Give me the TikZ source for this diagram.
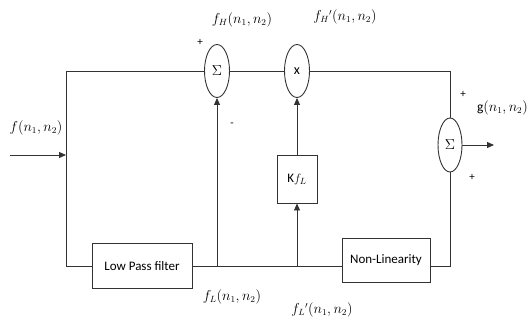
\documentclass[tikz,border=0pt]{standalone}
\usepackage{fontspec}
\setmainfont{Carlito}
\usetikzlibrary{shapes.geometric,arrows.meta}
\begin{document}
\begin{tikzpicture}[x=1pt,y=-1pt,
  line/.style={draw=black!80,line width=0.9pt},
  arr/.style={line,-{Triangle[length=7pt,width=6pt]}},
  sumnode/.style={ellipse,draw=black!80,line width=0.9pt,inner sep=0pt,minimum width=25pt,minimum height=53pt,font=\fontsize{14}{15}\selectfont},
  blockbox/.style={rectangle,draw=black!80,line width=0.9pt,inner sep=0pt,font=\fontsize{13}{15}\selectfont},
  lbl/.style={inner sep=0pt,font=\fontsize{13.5}{15}\selectfont},
  sgn/.style={inner sep=0pt,font=\fontsize{11}{12}\selectfont}]
\useasboundingbox (0,0) rectangle (529,323);
% nodes
\node[sumnode] (s1) at (217,71) {$\Sigma$};
\node[sumnode] (m) at (297,71) {x};
\node[sumnode,minimum width=24pt,minimum height=54pt] (s2) at (450,145) {$\Sigma$};
\node[blockbox,minimum width=100pt,minimum height=45pt] (lpf) at (142,266) {Low Pass filter};
\node[blockbox,minimum width=88pt,minimum height=44pt] (nl) at (386,260) {Non-Linearity};
\node[blockbox,minimum width=40pt,minimum height=48pt] (k) at (297,179) {K$f_L$};
\coordinate (in) at (10,155);
\coordinate (tl) at (66,71);
\coordinate (bl) at (66,266);
\coordinate (out) at (494,145);
% connectors
\draw[arr] (in) -- (in -| tl);
\draw[line] (s1.west) -- (tl) -- (bl) -- (lpf.west);
\draw[line] (s1.east) -- (m.west);
\draw[line] (m.east) -| (s2.north);
\draw[line] (lpf.east) -- (lpf.east -| nl.west);
\draw[line] (lpf.east -| nl.east) -| (s2.south);
\draw[arr] (lpf.east -| s1.south) -- (s1.south);
\draw[arr] (lpf.east -| k.south) -- (k.south);
\draw[arr] (k.north) -- (m.south);
\draw[arr] (s2.east) -- (out);
% labels
\node[sgn] (p1) at (200,42) {+};
\node[sgn] (mi) at (232,125) {-};
\node[lbl] (fh) at (242,20) {$f_H(n_1,n_2)$};
\node[lbl] (fhp) at (345,17) {$f_H{}'(n_1,n_2)$};
\node[lbl] (f) at (36,128) {$f(n_1,n_2)$};
\node[sgn] (p2) at (463,94) {+};
\node[lbl,anchor=east] (g) at (528,108) {g$(n_1,n_2)$};
\node[sgn] (p3) at (472,177) {+};
\node[lbl] (fl) at (232,297) {$f_L(n_1,n_2)$};
\node[lbl] (flp) at (322,310) {$f_L{}'(n_1,n_2)$};
\end{tikzpicture}
\end{document}
